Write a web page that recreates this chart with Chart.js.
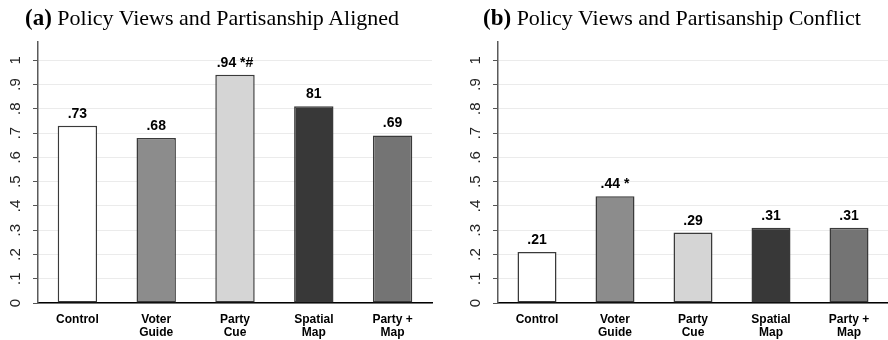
<!DOCTYPE html>
<html>
<head>
<meta charset="utf-8">
<script src="https://cdn.jsdelivr.net/npm/chart.js@4/dist/chart.umd.min.js"></script>
<style>
  html, body { margin: 0; padding: 0; background: #fff; }
  #wrap { position: relative; width: 888px; height: 340px; overflow: hidden; }
  canvas { position: absolute; top: 0; }
  .title { position: absolute; top: 7px; font-family: "Liberation Serif", "Times New Roman", serif;
           font-size: 22px; line-height: 22px; color: #000; white-space: nowrap; }
  .title b { font-size: 23px; }
</style>
</head>
<body>
<div id="wrap">
  <canvas id="panelA" width="444" height="340" style="left:0"></canvas>
  <canvas id="panelB" width="444" height="340" style="left:444px"></canvas>
  <div class="title" style="left:25px"><b>(a)</b> Policy Views and Partisanship Aligned</div>
  <div class="title" style="left:483px"><b>(b)</b> Policy Views and Partisanship Conflict</div>
</div>
<script>
// Treatment conditions along the x axis
const categories = [['Control'], ['Voter', 'Guide'], ['Party', 'Cue'], ['Spatial', 'Map'], ['Party +', 'Map']];

// (a) policy views and partisanship aligned
const alignedValues = [0.73, 0.68, 0.94, 0.81, 0.69];
const alignedLabels = ['.73', '.68', '.94 *#', '81', '.69'];

// (b) policy views and partisanship conflict
const conflictValues = [0.21, 0.44, 0.29, 0.31, 0.31];
const conflictLabels = ['.21', '.44 *', '.29', '.31', '.31'];

// y axis ticks
const yTickValues = [0, 0.1, 0.2, 0.3, 0.4, 0.5, 0.6, 0.7, 0.8, 0.9, 1];
const yTickLabels = ['0', '.1', '.2', '.3', '.4', '.5', '.6', '.7', '.8', '.9', '1'];

const barColors = ['#ffffff', '#8c8c8c', '#d5d5d5', '#383838', '#747474'];

// Bold value labels above each bar
const valueLabelPlugin = {
  id: 'valueLabels',
  afterDatasetsDraw(chart, args, opts) {
    const ctx = chart.ctx;
    const meta = chart.getDatasetMeta(0);
    ctx.save();
    ctx.fillStyle = '#000';
    ctx.textBaseline = 'alphabetic';
    ctx.textAlign = 'center';
    ctx.font = 'bold 14px "Liberation Sans", Arial, sans-serif';
    meta.data.forEach((bar, i) => {
      ctx.fillText(opts.labels[i], bar.x, bar.y - 8);
    });
    ctx.restore();
  }
};

// Y tick labels rotated to read bottom-to-top
const rotatedYTicksPlugin = {
  id: 'rotatedYTicks',
  afterDraw(chart) {
    const scale = chart.scales.y;
    const ctx = chart.ctx;
    ctx.save();
    ctx.fillStyle = '#222';
    ctx.font = '15px "Liberation Sans", Arial, sans-serif';
    ctx.textAlign = 'center';
    ctx.textBaseline = 'middle';
    scale.ticks.forEach((t) => {
      const py = scale.getPixelForValue(t.value);
      ctx.save();
      ctx.translate(scale.right - 22.5, py);
      ctx.rotate(-Math.PI / 2);
      ctx.fillText(yTickLabels[yTickValues.indexOf(t.value)], 0, 0);
      ctx.restore();
    });
    ctx.restore();
  }
};

function makeChart(id, values, labels, yWidth, rightPad) {
  return new Chart(document.getElementById(id), {
    type: 'bar',
    data: {
      labels: categories,
      datasets: [{
        data: values,
        backgroundColor: barColors,
        borderColor: '#3a3a3a',
        borderWidth: 1.5,
        borderSkipped: false,
        barPercentage: 0.5,
        categoryPercentage: 1.0
      }]
    },
    options: {
      responsive: false,
      animation: false,
      devicePixelRatio: 1,
      layout: { padding: { top: 42, right: rightPad, left: 0, bottom: 0 } },
      plugins: {
        legend: { display: false },
        tooltip: { enabled: false },
        title: { display: false },
        valueLabels: { labels: labels }
      },
      scales: {
        x: {
          grid: { display: false, drawTicks: false },
          border: { display: true, color: '#000', width: 1.5 },
          ticks: {
            color: '#000',
            font: { family: '"Liberation Sans", Arial, sans-serif', size: 12, weight: 'bold', lineHeight: 1.08 },
            padding: 10,
            maxRotation: 0,
            minRotation: 0,
            autoSkip: false
          },
          afterFit(scale) { scale.height = 37; }
        },
        y: {
          min: 0,
          max: 1.075,
          afterBuildTicks(scale) {
            scale.ticks = yTickValues.map(v => ({ value: v }));
          },
          grid: {
            color: '#ebebeb',
            lineWidth: 1,
            drawTicks: true,
            tickLength: 5,
            tickColor: '#555',
            tickWidth: 1
          },
          border: { display: true, color: '#5a5a5a', width: 1.5 },
          ticks: { display: false },
          afterFit(scale) { scale.width = yWidth; }
        }
      }
    },
    plugins: [valueLabelPlugin, rotatedYTicksPlugin]
  });
}

makeChart('panelA', alignedValues, alignedLabels, 38, 12);
makeChart('panelB', conflictValues, conflictLabels, 54, 0);
</script>
</body>
</html>
